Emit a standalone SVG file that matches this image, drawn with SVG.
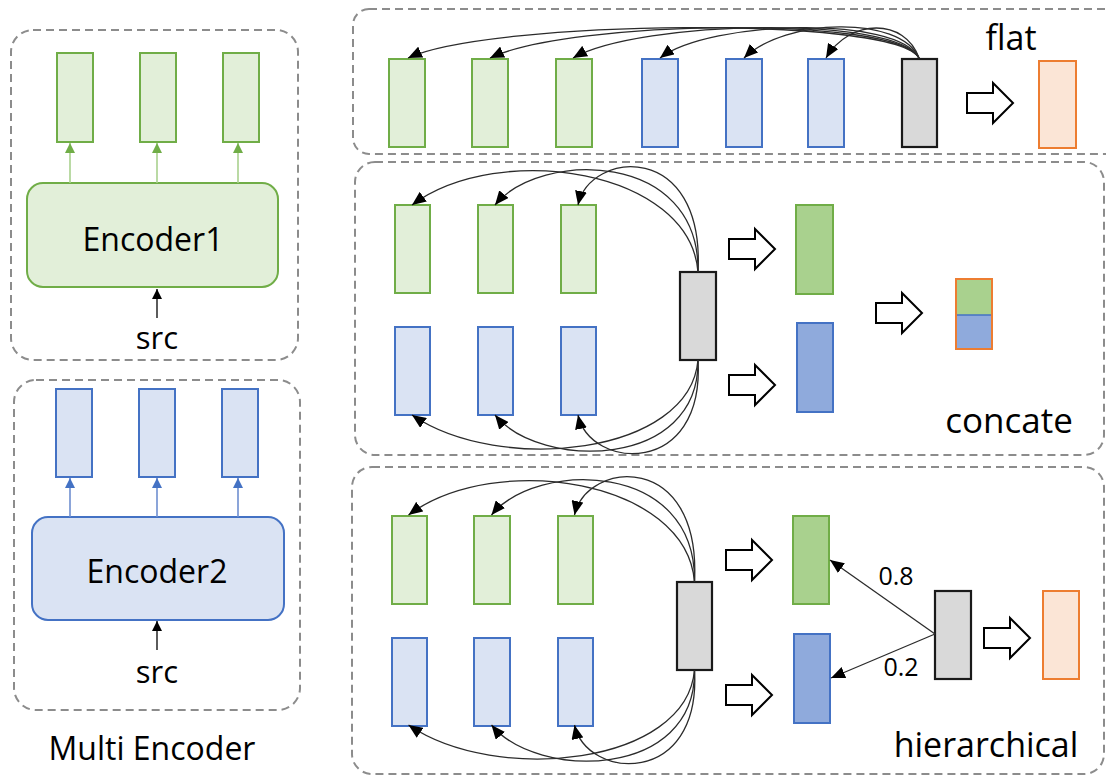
<svg xmlns="http://www.w3.org/2000/svg" width="1106" height="777" viewBox="0 0 1106 777">
  <style>
    .frame { fill: none; stroke: #8c8c8c; stroke-width: 2; stroke-dasharray: 8 5; }
    .g { fill: #e2efd9; stroke: #70ad47; stroke-width: 2; }
    .b { fill: #dae3f3; stroke: #4472c4; stroke-width: 2; }
    .gs { fill: #a9d18e; stroke: #70ad47; stroke-width: 2; }
    .bs { fill: #8faadc; stroke: #4472c4; stroke-width: 2; }
    .q { fill: #d9d9d9; stroke: #1a1a1a; stroke-width: 2.2; }
    .o { fill: #fbe5d6; stroke: #ed7d31; stroke-width: 2; }
    .enc1 { fill: #e2efd9; stroke: #70ad47; stroke-width: 2; }
    .enc2 { fill: #dae3f3; stroke: #4472c4; stroke-width: 2; }
    .lbl { font-family: "Open Sans", "Liberation Sans", sans-serif; fill: #000; }
    .att { fill: none; stroke: #2b2b2b; stroke-width: 1.3; marker-end: url(#ah); }
    .blk { fill: #fff; stroke: #000; stroke-width: 2; stroke-linejoin: miter; }
  </style>
  <defs>
    <marker id="ah" viewBox="0 0 14 12" refX="14" refY="6" markerWidth="14" markerHeight="12" orient="auto" markerUnits="userSpaceOnUse">
      <path d="M0,0 L14,6 L0,12 z" fill="#000"/>
    </marker>
    <marker id="ahG" viewBox="0 0 10 10" refX="10" refY="5" markerWidth="10" markerHeight="10" orient="auto" markerUnits="userSpaceOnUse">
      <path d="M0,0 L10,5 L0,10 z" fill="#70ad47"/>
    </marker>
    <marker id="ahB" viewBox="0 0 10 10" refX="10" refY="5" markerWidth="10" markerHeight="10" orient="auto" markerUnits="userSpaceOnUse">
      <path d="M0,0 L10,5 L0,10 z" fill="#4472c4"/>
    </marker>
    <marker id="ahK" viewBox="0 0 10 10" refX="10" refY="5" markerWidth="10" markerHeight="10" orient="auto" markerUnits="userSpaceOnUse">
      <path d="M0,0 L10,5 L0,10 z" fill="#000"/>
    </marker>
    <!-- hollow block arrow, origin at left middle -->
    <path id="blockArrow" class="blk" d="M0,-10 H26 V-20 L46,0 L26,20 V10 H0 Z"/>
  </defs>

  <!-- frames -->
  <g id="frames">
    <rect class="frame" x="11" y="30" width="287" height="330" rx="22"/>
    <rect class="frame" x="14" y="380" width="286" height="330" rx="22"/>
    <rect class="frame" x="353" y="9" width="770" height="145" rx="16"/>
    <rect class="frame" x="355" y="162" width="749" height="293" rx="20"/>
    <rect class="frame" x="352" y="467" width="752" height="307" rx="20"/>
  </g>

  <!-- encoder 1 -->
  <g id="encoder1">
    <rect class="g" x="57" y="53" width="36" height="89"/>
    <rect class="g" x="140" y="53" width="36" height="89"/>
    <rect class="g" x="223" y="53" width="36" height="89"/>
    <rect class="enc1" x="27" y="183" width="251" height="104" rx="16"/>
    <text class="lbl" x="153" y="251" font-size="32" text-anchor="middle">Encoder1</text>
    <text class="lbl" x="157" y="349" font-size="31" text-anchor="middle">src</text>
  </g>

  <!-- encoder 2 -->
  <g id="encoder2">
    <rect class="b" x="56" y="389" width="36" height="88"/>
    <rect class="b" x="139" y="389" width="36" height="88"/>
    <rect class="b" x="222" y="389" width="36" height="88"/>
    <rect class="enc2" x="32" y="517" width="252" height="103" rx="16"/>
    <text class="lbl" x="157" y="583" font-size="32" text-anchor="middle">Encoder2</text>
    <text class="lbl" x="157" y="683" font-size="31" text-anchor="middle">src</text>
    <text class="lbl" x="152" y="760" font-size="32" text-anchor="middle">Multi Encoder</text>
  </g>

  <!-- flat -->
  <g id="flat">
    <rect class="g" x="389" y="59" width="36" height="88"/>
    <rect class="g" x="472" y="59" width="36" height="88"/>
    <rect class="g" x="556" y="59" width="36" height="88"/>
    <rect class="b" x="642" y="59" width="36" height="88"/>
    <rect class="b" x="726" y="59" width="36" height="88"/>
    <rect class="b" x="808" y="59" width="36" height="88"/>
    <rect class="q" x="902" y="59" width="35" height="88"/>
    <use href="#blockArrow" x="967" y="103"/>
    <rect class="o" x="1039" y="61" width="37" height="87"/>
    <text class="lbl" x="1011" y="50" font-size="34" text-anchor="middle">flat</text>
  </g>

  <!-- concate -->
  <g id="concate">
    <rect class="g" x="395" y="205" width="35" height="88"/>
    <rect class="g" x="478" y="205" width="35" height="88"/>
    <rect class="g" x="561" y="205" width="35" height="88"/>
    <rect class="b" x="395" y="327" width="35" height="88"/>
    <rect class="b" x="478" y="327" width="35" height="88"/>
    <rect class="b" x="561" y="327" width="35" height="88"/>
    <rect class="q" x="680" y="272" width="36" height="88"/>
    <use href="#blockArrow" x="729" y="249"/>
    <use href="#blockArrow" x="729" y="385"/>
    <rect class="gs" x="796" y="205" width="37" height="89"/>
    <rect class="bs" x="797" y="323" width="36" height="89"/>
    <use href="#blockArrow" x="876" y="313"/>
    <rect x="956" y="279" width="36" height="36" fill="#a9d18e"/>
    <rect x="956" y="315" width="36" height="34" fill="#8faadc"/>
    <line x1="956" y1="315" x2="992" y2="315" stroke="#4472c4" stroke-width="1.5"/>
    <rect x="956" y="279" width="36" height="70" fill="none" stroke="#ed7d31" stroke-width="2"/>
    <text class="lbl" x="1009" y="433" font-size="35" text-anchor="middle">concate</text>
  </g>

  <!-- hierarchical -->
  <g id="hierarchical">
    <rect class="g" x="392" y="516" width="35" height="88"/>
    <rect class="g" x="474" y="516" width="36" height="88"/>
    <rect class="g" x="558" y="516" width="35" height="88"/>
    <rect class="b" x="392" y="638" width="35" height="88"/>
    <rect class="b" x="474" y="638" width="36" height="88"/>
    <rect class="b" x="558" y="638" width="35" height="88"/>
    <rect class="q" x="677" y="582" width="35" height="88"/>
    <use href="#blockArrow" x="726" y="560"/>
    <use href="#blockArrow" x="726" y="695"/>
    <rect class="gs" x="793" y="516" width="36" height="88"/>
    <rect class="bs" x="794" y="634" width="36" height="89"/>
    <rect class="q" x="935" y="591" width="36" height="88"/>
    <use href="#blockArrow" x="984" y="638"/>
    <rect class="o" x="1043" y="591" width="36" height="88"/>
    <text class="lbl" x="896" y="585" font-size="25" text-anchor="middle">0.8</text>
    <text class="lbl" x="901" y="676" font-size="25" text-anchor="middle">0.2</text>
    <text class="lbl" x="986" y="757" font-size="34" text-anchor="middle">hierarchical</text>
  </g>

  <!-- connectors -->
  <g id="connectors">
    <!-- encoder outputs -->
    <g stroke="#a9d18e" stroke-width="1.6" marker-end="url(#ahG)">
      <line x1="70" y1="183" x2="70" y2="143"/>
      <line x1="157" y1="183" x2="157" y2="143"/>
      <line x1="238" y1="183" x2="238" y2="143"/>
    </g>
    <g stroke="#6f8fd0" stroke-width="1.6" marker-end="url(#ahB)">
      <line x1="70" y1="517" x2="70" y2="478"/>
      <line x1="157" y1="517" x2="157" y2="478"/>
      <line x1="238" y1="517" x2="238" y2="478"/>
    </g>
    <g stroke="#333" stroke-width="1.6" marker-end="url(#ahK)">
      <line x1="157" y1="318" x2="157" y2="289"/>
      <line x1="157" y1="650" x2="157" y2="621"/>
    </g>

    <!-- flat attention -->
    <path class="att" d="M919,58 C895,15 490,20 408,58"/>
    <path class="att" d="M919,58 C896,15 570,20 490,58"/>
    <path class="att" d="M919,58 C897,15 640,20 573,58"/>
    <path class="att" d="M919,58 C898,15 710,20 660,58"/>
    <path class="att" d="M919,58 C900,15 785,18 744,58"/>
    <path class="att" d="M919,58 C905,18 850,18 826,58"/>

    <!-- concate attention -->
    <g id="attn2">
      <path class="att" d="M698,272 C690,170 500,140 412,205"/>
      <path class="att" d="M698,272 C700,150 540,150 495,205"/>
      <path class="att" d="M698,272 C705,140 590,150 578,205"/>
      <path class="att" d="M698,360 C690,455 500,475 412,415"/>
      <path class="att" d="M698,360 C700,470 540,470 495,415"/>
      <path class="att" d="M698,360 C705,478 590,470 578,415"/>
    </g>

    <!-- hierarchical attention -->
    <g transform="translate(-3.5,310)">
      <path class="att" d="M698,272 C690,170 500,140 412,205"/>
      <path class="att" d="M698,272 C700,150 540,150 495,205"/>
      <path class="att" d="M698,272 C705,140 590,150 578,205"/>
      <path class="att" d="M698,360 C690,455 500,475 412,415"/>
      <path class="att" d="M698,360 C700,470 540,470 495,415"/>
      <path class="att" d="M698,360 C705,478 590,470 578,415"/>
    </g>

    <!-- weighted combination -->
    <path class="att" d="M935,634 L830,560"/>
    <path class="att" d="M935,634 L831,678"/>
  </g>
</svg>
